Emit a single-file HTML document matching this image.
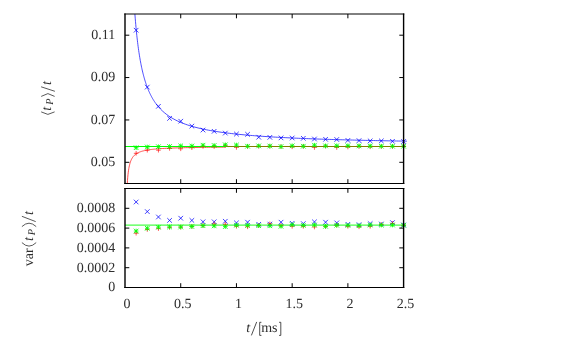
<!DOCTYPE html>
<html><head><meta charset="utf-8"><title>plot</title>
<style>
html,body{margin:0;padding:0;background:#fff;}
body{width:581px;height:345px;overflow:hidden;font-family:"Liberation Serif",serif;}
svg{display:block;will-change:transform;text-rendering:geometricPrecision;}
</style></head>
<body>
<svg width="581" height="345" viewBox="0 0 581 345">
<rect width="581" height="345" fill="#fff"/>
<polyline points="127.28,183.5 127.47,180.63 127.74,177.28 128.01,174.53 128.27,172.22 128.54,170.26 128.81,168.58 129.07,167.12 129.34,165.84 129.61,164.7 129.87,163.69 130.14,162.79 130.41,161.97 130.68,161.23 130.94,160.56 131.21,159.94 131.48,159.38 131.74,158.86 132.01,158.38 132.28,157.93 132.54,157.52 132.81,157.14 133.08,156.78 133.34,156.44 133.61,156.12 133.88,155.83 134.14,155.55 134.41,155.28 134.68,155.03 134.95,154.8 135.21,154.58 135.48,154.36 135.75,154.16 136.01,153.97 136.28,153.79 136.55,153.61 136.81,153.45 137.08,153.29 137.35,153.14 137.61,152.99 137.88,152.85 138.15,152.72 138.41,152.59 138.68,152.47 138.95,152.35 139.22,152.23 139.48,152.12 139.75,152.02 140.02,151.91 140.28,151.81 140.55,151.72 140.82,151.63 141.08,151.54 141.35,151.45 141.62,151.37 141.88,151.29 142.15,151.21 142.42,151.13 142.69,151.06 142.95,150.99 143.22,150.92 143.49,150.85 143.75,150.79 144.02,150.72 144.29,150.66 144.55,150.6 144.82,150.54 145.09,150.48 145.35,150.43 145.62,150.37 145.89,150.32 146.15,150.27 146.42,150.22 146.69,150.17 146.96,150.12 147.22,150.08 147.49,150.03 147.76,149.99 148.02,149.94 148.29,149.9 148.56,149.86 148.82,149.82 149.09,149.78 149.36,149.74 149.62,149.7 149.89,149.67 150.16,149.63 150.43,149.6 150.69,149.56 150.96,149.53 151.23,149.49 151.49,149.46 151.76,149.43 152.03,149.4 152.29,149.37 152.56,149.34 152.83,149.31 153.09,149.28 153.36,149.25 153.63,149.22 153.89,149.19 154.16,149.17 154.43,149.14 154.7,149.11 154.96,149.09 155.23,149.06 155.5,149.04 155.76,149.02 156.03,148.99 156.3,148.97 156.56,148.95 156.83,148.92 157.1,148.9 157.36,148.88 157.63,148.86 157.9,148.84 158.17,148.82 158.43,148.79 158.43,148.79 160.52,148.65 162.61,148.51 164.7,148.39 166.79,148.29 168.87,148.19 170.96,148.1 173.05,148.02 175.14,147.95 177.23,147.88 179.32,147.82 181.4,147.76 183.49,147.71 185.58,147.66 187.67,147.61 189.76,147.56 191.85,147.52 193.93,147.49 196.02,147.45 198.11,147.42 200.2,147.38 202.29,147.35 204.38,147.32 206.46,147.3 208.55,147.27 210.64,147.24 212.73,147.22 214.82,147.2 216.91,147.18 218.99,147.16 221.08,147.14 223.17,147.12 225.26,147.1" stroke="#ff0000" stroke-width="0.7" fill="none"/>
<path d="M125 146.5H225.3" stroke="#00ff00" stroke-width="1" fill="none"/>
<path d="M225.3 146.5H406.1" stroke="#808000" stroke-width="1" fill="none"/>
<polyline points="134.89,14 134.95,14.73 135.21,18.16 135.48,21.41 135.75,24.5 136.01,27.44 136.28,30.24 136.55,32.91 136.81,35.46 137.08,37.9 137.35,40.23 137.61,42.46 137.88,44.6 138.15,46.66 138.41,48.63 138.68,50.53 138.95,52.35 139.22,54.1 139.48,55.79 139.75,57.42 140.02,58.99 140.28,60.51 140.55,61.97 140.82,63.38 141.08,64.75 141.35,66.07 141.62,67.35 141.88,68.59 142.15,69.8 142.42,70.96 142.69,72.09 142.95,73.19 143.22,74.25 143.49,75.28 143.75,76.28 144.02,77.26 144.29,78.21 144.55,79.13 144.82,80.03 145.09,80.9 145.35,81.75 145.62,82.58 145.89,83.39 146.15,84.18 146.42,84.94 146.69,85.69 146.96,86.42 147.22,87.14 147.49,87.83 147.76,88.51 148.02,89.18 148.29,89.82 148.56,90.46 148.82,91.08 149.09,91.68 149.36,92.28 149.62,92.86 149.89,93.42 150.16,93.98 150.43,94.52 150.69,95.06 150.96,95.58 151.23,96.09 151.49,96.59 151.76,97.08 152.03,97.56 152.29,98.03 152.56,98.5 152.83,98.95 153.09,99.39 153.36,99.83 153.63,100.26 153.89,100.68 154.16,101.09 154.43,101.5 154.7,101.9 154.96,102.29 155.23,102.67 155.5,103.05 155.76,103.42 156.03,103.78 156.3,104.14 156.56,104.49 156.83,104.84 157.1,105.18 157.36,105.52 157.63,105.84 157.9,106.17 158.17,106.49 158.43,106.8 158.43,106.8 160.52,109.09 162.61,111.13 164.7,112.95 166.79,114.59 168.87,116.08 170.96,117.43 173.05,118.66 175.14,119.79 177.23,120.83 179.32,121.79 181.4,122.68 183.49,123.5 185.58,124.27 187.67,124.99 189.76,125.66 191.85,126.29 193.93,126.88 196.02,127.43 198.11,127.96 200.2,128.45 202.29,128.92 204.38,129.37 206.46,129.79 208.55,130.19 210.64,130.57 212.73,130.93 214.82,131.28 216.91,131.6 218.99,131.92 221.08,132.22 223.17,132.51 225.26,132.79 227.35,133.05 229.44,133.31 231.52,133.55 233.61,133.79 235.7,134.01 237.79,134.23 239.88,134.44 241.97,134.64 244.05,134.84 246.14,135.03 248.23,135.21 250.32,135.39 252.41,135.56 254.5,135.72 256.58,135.88 258.67,136.04 260.76,136.19 262.85,136.33 264.94,136.47 267.03,136.61 269.11,136.74 271.2,136.87 273.29,137 275.38,137.12 277.47,137.24 279.56,137.35 281.64,137.47 283.73,137.58 285.82,137.68 287.91,137.79 290,137.89 292.09,137.99 294.17,138.08 296.26,138.18 298.35,138.27 300.44,138.36 302.53,138.44 304.62,138.53 306.7,138.61 308.79,138.69 310.88,138.77 312.97,138.85 315.06,138.93 317.15,139 319.23,139.08 321.32,139.15 323.41,139.22 325.5,139.29 327.59,139.35 329.68,139.42 331.76,139.48 333.85,139.55 335.94,139.61 338.03,139.67 340.12,139.73 342.2,139.79 344.29,139.84 346.38,139.9 348.47,139.95 350.56,140.01 352.65,140.06 354.73,140.11 356.82,140.16 358.91,140.21 361,140.26 363.09,140.31 365.18,140.36 367.26,140.41 369.35,140.45 371.44,140.5 373.53,140.54 375.62,140.59 377.71,140.63 379.79,140.67 381.88,140.71 383.97,140.75 386.06,140.79 388.15,140.83 390.24,140.87 392.32,140.91 394.41,140.95 396.5,140.99 398.59,141.02 400.68,141.06 402.77,141.09 404.85,141.13 406.94,141.16" stroke="#0000ff" stroke-width="0.7" fill="none"/>
<path d="M125 225.1H406.1" stroke="#00ff00" stroke-width="0.9" fill="none"/>
<path d="M133.84 27.9L138.44 32.5M133.84 32.5L138.44 27.9M144.99 84.8L149.59 89.4M144.99 89.4L149.59 84.8M156.13 104L160.73 108.6M156.13 108.6L160.73 104M167.28 116.1L171.88 120.7M167.28 120.7L171.88 116.1M178.42 118.9L183.02 123.5M178.42 123.5L183.02 118.9M189.56 123.8L194.16 128.4M189.56 128.4L194.16 123.8M200.71 127.75L205.31 132.35M200.71 132.35L205.31 127.75M211.85 129L216.45 133.6M211.85 133.6L216.45 129M223 130.8L227.6 135.4M223 135.4L227.6 130.8M234.14 131.75L238.74 136.35M234.14 136.35L238.74 131.75M245.28 132L249.88 136.6M245.28 136.6L249.88 132M256.43 134.9L261.03 139.5M256.43 139.5L261.03 134.9M267.57 135.05L272.17 139.65M267.57 139.65L272.17 135.05M278.72 135.6L283.32 140.2M278.72 140.2L283.32 135.6M289.86 135.7L294.46 140.3M289.86 140.3L294.46 135.7M301 136L305.6 140.6M301 140.6L305.6 136M312.15 136.7L316.75 141.3M312.15 141.3L316.75 136.7M323.29 137L327.89 141.6M323.29 141.6L327.89 137M334.44 137.2L339.04 141.8M334.44 141.8L339.04 137.2M345.58 138.1L350.18 142.7M345.58 142.7L350.18 138.1M356.72 138.35L361.32 142.95M356.72 142.95L361.32 138.35M367.87 138.6L372.47 143.2M367.87 143.2L372.47 138.6M379.01 138.6L383.61 143.2M379.01 143.2L383.61 138.6M390.16 139L394.76 143.6M390.16 143.6L394.76 139M401.3 139.2L405.9 143.8M401.3 143.8L405.9 139.2" stroke="#0000ff" stroke-width="0.75" fill="none"/>
<path d="M133.84 153.3L138.44 153.3M136.14 151L136.14 155.6M144.99 150.2L149.59 150.2M147.29 147.9L147.29 152.5M156.13 150.2L160.73 150.2M158.43 147.9L158.43 152.5M167.28 148.4L171.88 148.4M169.58 146.1L169.58 150.7M178.42 148.8L183.02 148.8M180.72 146.5L180.72 151.1M189.56 147.7L194.16 147.7M191.86 145.4L191.86 150M200.71 146.4L205.31 146.4M203.01 144.1L203.01 148.7M211.85 146.6L216.45 146.6M214.15 144.3L214.15 148.9M223 145.5L227.6 145.5M225.3 143.2L225.3 147.8M234.14 147.4L238.74 147.4M236.44 145.1L236.44 149.7M245.28 146.5L249.88 146.5M247.58 144.2L247.58 148.8M256.43 146.3L261.03 146.3M258.73 144L258.73 148.6M267.57 146.3L272.17 146.3M269.87 144L269.87 148.6M278.72 146.6L283.32 146.6M281.02 144.3L281.02 148.9M289.86 146.8L294.46 146.8M292.16 144.5L292.16 149.1M301 146.3L305.6 146.3M303.3 144L303.3 148.6M312.15 147.5L316.75 147.5M314.45 145.2L314.45 149.8M323.29 146.2L327.89 146.2M325.59 143.9L325.59 148.5M334.44 147.5L339.04 147.5M336.74 145.2L336.74 149.8M345.58 147L350.18 147M347.88 144.7L347.88 149.3M356.72 146.5L361.32 146.5M359.02 144.2L359.02 148.8M367.87 146.8L372.47 146.8M370.17 144.5L370.17 149.1M379.01 146.5L383.61 146.5M381.31 144.2L381.31 148.8M390.16 146.4L394.76 146.4M392.46 144.1L392.46 148.7M401.3 146.3L405.9 146.3M403.6 144L403.6 148.6" stroke="#ff0000" stroke-width="0.65" fill="none"/>
<path d="M133.84 145.4L138.44 150M133.84 150L138.44 145.4M133.84 147.7L138.44 147.7M136.14 145.4L136.14 150M144.99 144.7L149.59 149.3M144.99 149.3L149.59 144.7M144.99 147L149.59 147M147.29 144.7L147.29 149.3M156.13 144.4L160.73 149M156.13 149L160.73 144.4M156.13 146.7L160.73 146.7M158.43 144.4L158.43 149M167.28 144.2L171.88 148.8M167.28 148.8L171.88 144.2M167.28 146.5L171.88 146.5M169.58 144.2L169.58 148.8M178.42 143.6L183.02 148.2M178.42 148.2L183.02 143.6M178.42 145.9L183.02 145.9M180.72 143.6L180.72 148.2M189.56 143.7L194.16 148.3M189.56 148.3L194.16 143.7M189.56 146L194.16 146M191.86 143.7L191.86 148.3M200.71 142.9L205.31 147.5M200.71 147.5L205.31 142.9M200.71 145.2L205.31 145.2M203.01 142.9L203.01 147.5M211.85 143.2L216.45 147.8M211.85 147.8L216.45 143.2M211.85 145.5L216.45 145.5M214.15 143.2L214.15 147.8M223 142.5L227.6 147.1M223 147.1L227.6 142.5M223 144.8L227.6 144.8M225.3 142.5L225.3 147.1M234.14 142.77L238.74 147.37M234.14 147.37L238.74 142.77M234.14 145.07L238.74 145.07M236.44 142.77L236.44 147.37M245.28 143.9L249.88 148.5M245.28 148.5L249.88 143.9M245.28 146.2L249.88 146.2M247.58 143.9L247.58 148.5M256.43 143.6L261.03 148.2M256.43 148.2L261.03 143.6M256.43 145.9L261.03 145.9M258.73 143.6L258.73 148.2M267.57 143.7L272.17 148.3M267.57 148.3L272.17 143.7M267.57 146L272.17 146M269.87 143.7L269.87 148.3M278.72 144.3L283.32 148.9M278.72 148.9L283.32 144.3M278.72 146.6L283.32 146.6M281.02 144.3L281.02 148.9M289.86 143.5L294.46 148.1M289.86 148.1L294.46 143.5M289.86 145.8L294.46 145.8M292.16 143.5L292.16 148.1M301 143.9L305.6 148.5M301 148.5L305.6 143.9M301 146.2L305.6 146.2M303.3 143.9L303.3 148.5M312.15 142.9L316.75 147.5M312.15 147.5L316.75 142.9M312.15 145.2L316.75 145.2M314.45 142.9L314.45 147.5M323.29 143.6L327.89 148.2M323.29 148.2L327.89 143.6M323.29 145.9L327.89 145.9M325.59 143.6L325.59 148.2M334.44 143.5L339.04 148.1M334.44 148.1L339.04 143.5M334.44 145.8L339.04 145.8M336.74 143.5L336.74 148.1M345.58 143.45L350.18 148.05M345.58 148.05L350.18 143.45M345.58 145.75L350.18 145.75M347.88 143.45L347.88 148.05M356.72 143.6L361.32 148.2M356.72 148.2L361.32 143.6M356.72 145.9L361.32 145.9M359.02 143.6L359.02 148.2M367.87 143.7L372.47 148.3M367.87 148.3L372.47 143.7M367.87 146L372.47 146M370.17 143.7L370.17 148.3M379.01 143.9L383.61 148.5M379.01 148.5L383.61 143.9M379.01 146.2L383.61 146.2M381.31 143.9L381.31 148.5M390.16 143.9L394.76 148.5M390.16 148.5L394.76 143.9M390.16 146.2L394.76 146.2M392.46 143.9L392.46 148.5M401.3 143.9L405.9 148.5M401.3 148.5L405.9 143.9M401.3 146.2L405.9 146.2M403.6 143.9L403.6 148.5" stroke="#00ff00" stroke-width="0.85" fill="none"/>
<path d="M133.84 199.7L138.44 204.3M133.84 204.3L138.44 199.7M144.99 209.3L149.59 213.9M144.99 213.9L149.59 209.3M156.13 214.7L160.73 219.3M156.13 219.3L160.73 214.7M167.28 218.1L171.88 222.7M167.28 222.7L171.88 218.1M178.42 215.9L183.02 220.5M178.42 220.5L183.02 215.9M189.56 218.1L194.16 222.7M189.56 222.7L194.16 218.1M200.71 219.5L205.31 224.1M200.71 224.1L205.31 219.5M211.85 219.5L216.45 224.1M211.85 224.1L216.45 219.5M223 218.95L227.6 223.55M223 223.55L227.6 218.95M234.14 220.6L238.74 225.2M234.14 225.2L238.74 220.6M245.28 219.9L249.88 224.5M245.28 224.5L249.88 219.9M256.43 222L261.03 226.6M256.43 226.6L261.03 222M267.57 221.8L272.17 226.4M267.57 226.4L272.17 221.8M278.72 219.9L283.32 224.5M278.72 224.5L283.32 219.9M289.86 221L294.46 225.6M289.86 225.6L294.46 221M301 221.3L305.6 225.9M301 225.9L305.6 221.3M312.15 219.6L316.75 224.2M312.15 224.2L316.75 219.6M323.29 219.9L327.89 224.5M323.29 224.5L327.89 219.9M334.44 220.6L339.04 225.2M334.44 225.2L339.04 220.6M345.58 222L350.18 226.6M345.58 226.6L350.18 222M356.72 222.4L361.32 227M356.72 227L361.32 222.4M367.87 221.3L372.47 225.9M367.87 225.9L372.47 221.3M379.01 221.7L383.61 226.3M379.01 226.3L383.61 221.7M390.16 220.3L394.76 224.9M390.16 224.9L394.76 220.3M401.3 222.7L405.9 227.3M401.3 227.3L405.9 222.7" stroke="#0000ff" stroke-width="0.75" fill="none"/>
<path d="M133.84 233.2L138.44 233.2M136.14 230.9L136.14 235.5M144.99 229.5L149.59 229.5M147.29 227.2L147.29 231.8M156.13 228.6L160.73 228.6M158.43 226.3L158.43 230.9M167.28 227.4L171.88 227.4M169.58 225.1L169.58 229.7M178.42 227.2L183.02 227.2M180.72 224.9L180.72 229.5M189.56 226.5L194.16 226.5M191.86 224.2L191.86 228.8M200.71 225.5L205.31 225.5M203.01 223.2L203.01 227.8M211.85 224L216.45 224M214.15 221.7L214.15 226.3M223 224.3L227.6 224.3M225.3 222L225.3 226.6M234.14 226.3L238.74 226.3M236.44 224L236.44 228.6M245.28 226.8L249.88 226.8M247.58 224.5L247.58 229.1M256.43 225.5L261.03 225.5M258.73 223.2L258.73 227.8M267.57 223.8L272.17 223.8M269.87 221.5L269.87 226.1M278.72 225.5L283.32 225.5M281.02 223.2L281.02 227.8M289.86 226.3L294.46 226.3M292.16 224L292.16 228.6M301 226.3L305.6 226.3M303.3 224L303.3 228.6M312.15 227L316.75 227M314.45 224.7L314.45 229.3M323.29 226.5L327.89 226.5M325.59 224.2L325.59 228.8M334.44 225.25L339.04 225.25M336.74 222.95L336.74 227.55M345.58 226.3L350.18 226.3M347.88 224L347.88 228.6M356.72 226.8L361.32 226.8M359.02 224.5L359.02 229.1M367.87 226.3L372.47 226.3M370.17 224L370.17 228.6M379.01 224.5L383.61 224.5M381.31 222.2L381.31 226.8M390.16 223.4L394.76 223.4M392.46 221.1L392.46 225.7M401.3 225.25L405.9 225.25M403.6 222.95L403.6 227.55" stroke="#ff0000" stroke-width="0.65" fill="none"/>
<path d="M133.84 228.7L138.44 233.3M133.84 233.3L138.44 228.7M133.84 231L138.44 231M136.14 228.7L136.14 233.3M144.99 226L149.59 230.6M144.99 230.6L149.59 226M144.99 228.3L149.59 228.3M147.29 226L147.29 230.6M156.13 224.9L160.73 229.5M156.13 229.5L160.73 224.9M156.13 227.2L160.73 227.2M158.43 224.9L158.43 229.5M167.28 224.6L171.88 229.2M167.28 229.2L171.88 224.6M167.28 226.9L171.88 226.9M169.58 224.6L169.58 229.2M178.42 224.7L183.02 229.3M178.42 229.3L183.02 224.7M178.42 227L183.02 227M180.72 224.7L180.72 229.3M189.56 224.2L194.16 228.8M189.56 228.8L194.16 224.2M189.56 226.5L194.16 226.5M191.86 224.2L191.86 228.8M200.71 223.4L205.31 228M200.71 228L205.31 223.4M200.71 225.7L205.31 225.7M203.01 223.4L203.01 228M211.85 223.6L216.45 228.2M211.85 228.2L216.45 223.6M211.85 225.9L216.45 225.9M214.15 223.6L214.15 228.2M223 224.3L227.6 228.9M223 228.9L227.6 224.3M223 226.6L227.6 226.6M225.3 224.3L225.3 228.9M234.14 222.95L238.74 227.55M234.14 227.55L238.74 222.95M234.14 225.25L238.74 225.25M236.44 222.95L236.44 227.55M245.28 223.1L249.88 227.7M245.28 227.7L249.88 223.1M245.28 225.4L249.88 225.4M247.58 223.1L247.58 227.7M256.43 223.4L261.03 228M256.43 228L261.03 223.4M256.43 225.7L261.03 225.7M258.73 223.4L258.73 228M267.57 223.5L272.17 228.1M267.57 228.1L272.17 223.5M267.57 225.8L272.17 225.8M269.87 223.5L269.87 228.1M278.72 224L283.32 228.6M278.72 228.6L283.32 224M278.72 226.3L283.32 226.3M281.02 224L281.02 228.6M289.86 222.4L294.46 227M289.86 227L294.46 222.4M289.86 224.7L294.46 224.7M292.16 222.4L292.16 227M301 223.1L305.6 227.7M301 227.7L305.6 223.1M301 225.4L305.6 225.4M303.3 223.1L303.3 227.7M312.15 222.7L316.75 227.3M312.15 227.3L316.75 222.7M312.15 225L316.75 225M314.45 222.7L314.45 227.3M323.29 224L327.89 228.6M323.29 228.6L327.89 224M323.29 226.3L327.89 226.3M325.59 224L325.59 228.6M334.44 222.95L339.04 227.55M334.44 227.55L339.04 222.95M334.44 225.25L339.04 225.25M336.74 222.95L336.74 227.55M345.58 223.1L350.18 227.7M345.58 227.7L350.18 223.1M345.58 225.4L350.18 225.4M347.88 223.1L347.88 227.7M356.72 223.4L361.32 228M356.72 228L361.32 223.4M356.72 225.7L361.32 225.7M359.02 223.4L359.02 228M367.87 222.7L372.47 227.3M367.87 227.3L372.47 222.7M367.87 225L372.47 225M370.17 222.7L370.17 227.3M379.01 222.8L383.61 227.4M379.01 227.4L383.61 222.8M379.01 225.1L383.61 225.1M381.31 222.8L381.31 227.4M390.16 222.7L394.76 227.3M390.16 227.3L394.76 222.7M390.16 225L394.76 225M392.46 222.7L392.46 227.3M401.3 222.95L405.9 227.55M401.3 227.55L405.9 222.95M401.3 225.25L405.9 225.25M403.6 222.95L403.6 227.55" stroke="#00ff00" stroke-width="0.85" fill="none"/>
<path d="M125 13.5V184M403.6 13.5V184M125 188V288M403.6 188V288" stroke="#000" stroke-width="1.4" fill="none"/>
<path d="M124.3 14H404.3M124.3 183.5H404.3M124.3 188.5H404.3M124.3 287.5H404.3M180.72 14v4.3M180.72 183.5v-4.3M180.72 188.5v4.3M180.72 287.5v-4.3M236.44 14v4.3M236.44 183.5v-4.3M236.44 188.5v4.3M236.44 287.5v-4.3M292.16 14v4.3M292.16 183.5v-4.3M292.16 188.5v4.3M292.16 287.5v-4.3M347.88 14v4.3M347.88 183.5v-4.3M347.88 188.5v4.3M347.88 287.5v-4.3M125 162.31h4.3M403.6 162.31h-4.3M125 119.94h4.3M403.6 119.94h-4.3M125 77.56h4.3M403.6 77.56h-4.3M125 35.19h4.3M403.6 35.19h-4.3M125 267.7h4.3M403.6 267.7h-4.3M125 247.9h4.3M403.6 247.9h-4.3M125 228.1h4.3M403.6 228.1h-4.3M125 208.3h4.3M403.6 208.3h-4.3" stroke="#000" stroke-width="1" fill="none"/>
<g font-family="'Liberation Serif', serif" font-size="14" fill="#2e2e2e"><text x="115.2" y="166.21" text-anchor="end">0.05</text>
<text x="115.2" y="123.84" text-anchor="end">0.07</text>
<text x="115.2" y="81.46" text-anchor="end">0.09</text>
<text x="115.2" y="39.09" text-anchor="end">0.11</text>
<text x="115.2" y="291.4" text-anchor="end">0</text>
<text x="115.2" y="271.6" text-anchor="end">0.0002</text>
<text x="115.2" y="251.8" text-anchor="end">0.0004</text>
<text x="115.2" y="232" text-anchor="end">0.0006</text>
<text x="115.2" y="212.2" text-anchor="end">0.0008</text>
<text x="127" y="307.6" text-anchor="middle">0</text>
<text x="182.72" y="307.6" text-anchor="middle">0.5</text>
<text x="238.44" y="307.6" text-anchor="middle">1</text>
<text x="294.16" y="307.6" text-anchor="middle">1.5</text>
<text x="349.88" y="307.6" text-anchor="middle">2</text>
<text x="405.6" y="307.6" text-anchor="middle">2.5</text>
<text x="246.2" y="332.2" font-style="italic">t</text>
<text x="269.4" y="332.2" text-anchor="middle">ms</text>
<path d="M251.4 335.4L256.7 321.9M261.4 322.3H259.7V335.4H261.4M279.1 322.3H280.8V335.4H279.1" stroke="#222" stroke-width="0.8" fill="none"/>
<text transform="translate(51.3,108.75) rotate(-90)" text-anchor="middle" font-size="14" font-style="italic">t</text>
<text transform="translate(53.2,101.5) rotate(-90)" text-anchor="middle" font-size="10.4" font-style="italic">P</text>
<text transform="translate(51.3,83) rotate(-90)" text-anchor="middle" font-size="14" font-style="italic">t</text>
<path d="M41.2 111.9L47.9 114.4L54.6 111.9M41.2 96.4L47.9 93.6L54.6 96.4M41.1 86.8L54.9 91.3" stroke="#222" stroke-width="0.75" fill="none"/>
<text transform="translate(32.8,257.2) rotate(-90)" text-anchor="middle" font-size="14">var</text>
<text transform="translate(32.8,238.95) rotate(-90)" text-anchor="middle" font-size="14" font-style="italic">t</text>
<text transform="translate(34.7,232.1) rotate(-90)" text-anchor="middle" font-size="10.4" font-style="italic">P</text>
<text transform="translate(32.8,213.15) rotate(-90)" text-anchor="middle" font-size="14" font-style="italic">t</text>
<path d="M21.9 242.6Q29 249.6 36.2 242.6M21.9 226.6Q29 219.8 36.2 226.6M21.9 216.3L35.7 221.6" stroke="#222" stroke-width="0.75" fill="none"/></g>
</svg>
</body></html>
